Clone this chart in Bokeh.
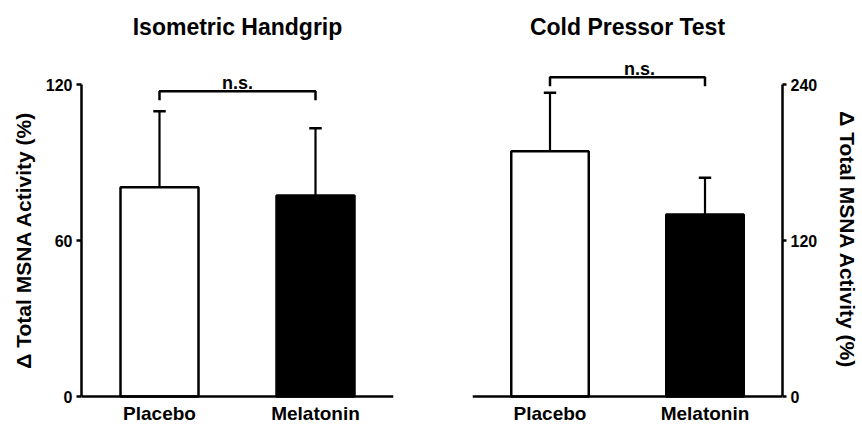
import numpy as np
from bokeh.plotting import figure
from bokeh.layouts import row
from bokeh.models import FixedTicker, Range1d
from bokeh.core.properties import value
from bokeh.embed import file_html
from bokeh.resources import INLINE

# ---------------- data ----------------
categories = ["Placebo", "Melatonin"]
handgrip_mean = [80.5, 77.3]
handgrip_err = [29.2, 25.9]
cold_mean = [188.7, 140.0]
cold_err = [45.0, 28.2]
handgrip_ticks = [0, 60, 120]
cold_ticks = [0, 120, 240]
titles = ["Isometric Handgrip", "Cold Pressor Test"]
y_label = "Δ Total MSNA Activity (%)"
sig_label = "n.s."
handgrip_bracket = 117.4
cold_bracket = 245.6
bar_fills = ["white", "black"]

# ---------------- layout constants ----------------
FONT = "Liberation Sans"
W, H = 431, 429
FRAME_TOP = 50      # px from top of canvas to frame top
AXIS_PX = 312       # px spanned by the y axis (0 .. max tick)
ZERO_PX = 396       # px from top of canvas to y = 0


def make_panel(title, means, errs, ticks, side, bracket_y, ns_dx):
    ymax = ticks[-1]
    upp = ymax / AXIS_PX
    y_start = -(H - ZERO_PX) * upp
    y_end = (ZERO_PX - FRAME_TOP) * upp
    if side == "left":
        bl, br = 81, W - 393
    else:
        bl, br = 41, 77
    p = figure(width=W, height=H,
               x_range=Range1d(0, len(categories)),
               y_range=Range1d(y_start, y_end),
               output_backend="svg", toolbar_location=None,
               y_axis_location=side,
               min_border_left=bl, min_border_right=br,
               min_border_top=FRAME_TOP, min_border_bottom=0,
               title=title)
    p.outline_line_color = None
    p.xgrid.visible = False
    p.ygrid.visible = False
    p.background_fill_color = "white"
    p.border_fill_color = "white"

    p.title.text_font = FONT
    p.title.text_font_size = "23px"
    p.title.text_font_style = "bold"
    p.title.align = "center"
    p.title.text_color = "black"
    p.title.standoff = 22

    xs = np.arange(len(categories)) + 0.5
    means = np.array(means)
    tops = means + np.array(errs)

    # error bars (upper only)
    p.segment(x0=xs, y0=means, x1=xs, y1=tops, line_color="black", line_width=2.2)
    p.segment(x0=xs - 0.04, y0=tops, x1=xs + 0.04, y1=tops, line_color="black", line_width=2.5)

    # bars
    p.vbar(x=xs, top=means, bottom=0, width=0.5, fill_color=bar_fills,
           line_color="black", line_width=2.5)

    # significance bracket
    drop = 9 * upp
    p.line(x=[xs[0], xs[0], xs[-1], xs[-1]],
           y=[bracket_y - drop, bracket_y, bracket_y, bracket_y - drop],
           line_color="black", line_width=2.5)
    p.text(x=[xs.mean()], y=[bracket_y], text=[sig_label],
           x_offset=ns_dx, y_offset=-8,
           text_align="center", text_baseline="alphabetic",
           text_font=value(FONT), text_font_style="bold",
           text_font_size="18px", text_color="black")

    # x axis
    xa = p.xaxis[0]
    xa.fixed_location = 0
    xa.ticker = FixedTicker(ticks=list(xs))
    xa.major_label_overrides = {float(x): c for x, c in zip(xs, categories)}
    xa.major_tick_out = 0
    xa.major_tick_in = 0
    xa.minor_tick_out = 0
    xa.minor_tick_in = 0
    xa.major_tick_line_color = None
    xa.minor_tick_line_color = None
    xa.axis_line_width = 2.5
    xa.axis_line_color = "black"
    xa.major_label_standoff = 6
    xa.major_label_text_font = FONT
    xa.major_label_text_font_size = "19px"
    xa.major_label_text_font_style = "bold"
    xa.major_label_text_color = "black"

    # y axis
    ya = p.yaxis[0]
    ya.ticker = FixedTicker(ticks=ticks)
    ya.bounds = (0, ymax)
    ya.major_tick_out = 5 if side == "left" else 4
    ya.major_tick_in = 0
    ya.minor_tick_out = 0
    ya.minor_tick_in = 0
    ya.minor_tick_line_color = None
    ya.major_tick_line_width = 2.5
    ya.axis_line_width = 2.5
    ya.axis_line_color = "black"
    ya.major_tick_line_color = "black"
    ya.major_label_standoff = 4
    ya.major_label_text_font = FONT
    ya.major_label_text_font_size = "16px"
    ya.major_label_text_font_style = "bold"
    ya.major_label_text_color = "black"
    ya.axis_label = y_label
    ya.axis_label_standoff = 8 if side == "left" else 16
    ya.axis_label_text_font = FONT
    ya.axis_label_text_font_size = "21px"
    ya.axis_label_text_font_style = "bold"
    ya.axis_label_text_color = "black"
    return p


p1 = make_panel(titles[0], handgrip_mean, handgrip_err, handgrip_ticks, "left", handgrip_bracket, 0)
p2 = make_panel(titles[1], cold_mean, cold_err, cold_ticks, "right", cold_bracket, 12)

layout = row(p1, p2)
open("out.html", "w").write(file_html(layout, INLINE))
